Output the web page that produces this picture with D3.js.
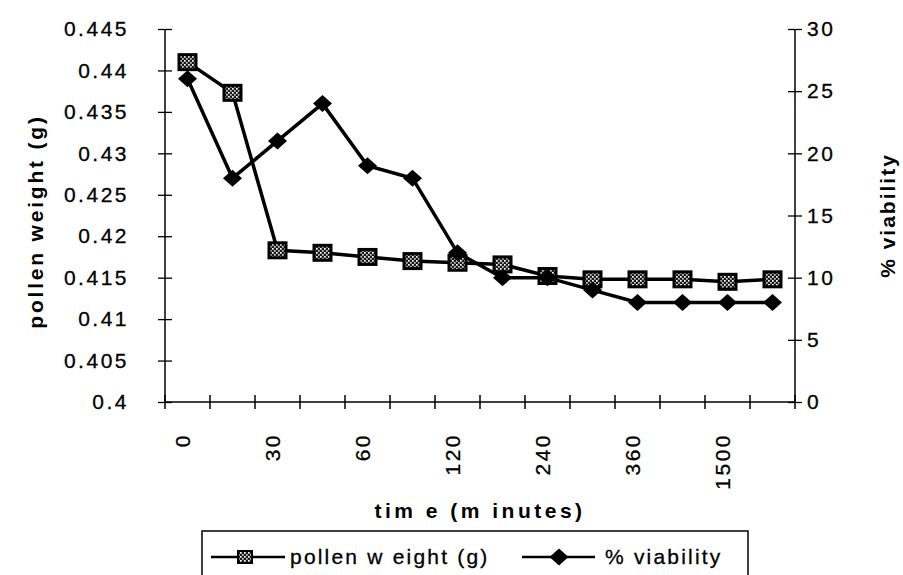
<!DOCTYPE html>
<html>
<head>
<meta charset="utf-8">
<script src="https://cdn.jsdelivr.net/npm/d3@7"></script>
<style>
  body { margin: 0; background: #fff; }
  svg { display: block; }
</style>
</head>
<body>
<div id="chart"></div>
<script>
const timeLabels = ["0", "", "30", "", "60", "", "120", "", "240", "", "360", "", "1500", ""];
const pollenWeight = [0.441, 0.4373, 0.4183, 0.418, 0.4175, 0.417, 0.4168, 0.4166, 0.4152, 0.4148, 0.4148, 0.4148, 0.4145, 0.4148];
const viability = [26, 18, 21, 24, 19, 18, 12, 10, 10, 9, 8, 8, 8, 8];
const leftTicks = [0.4, 0.405, 0.41, 0.415, 0.42, 0.425, 0.43, 0.435, 0.44, 0.445];
const rightTicks = [0, 5, 10, 15, 20, 25, 30];

const width = 903, height = 575;
const margin = { top: 29, right: 108, bottom: 173, left: 165 };
const font = "'Liberation Sans', Arial, sans-serif";

const svg = d3.select("#chart").append("svg")
  .attr("width", width)
  .attr("height", height);

// --- dotted fill for the square markers ---
const defs = svg.append("defs");
const pat = defs.append("pattern")
  .attr("id", "dots")
  .attr("patternUnits", "userSpaceOnUse")
  .attr("width", 4).attr("height", 4);
pat.append("rect").attr("width", 4).attr("height", 4).attr("fill", "#1a1a1a");
pat.append("rect").attr("x", 0).attr("y", 0).attr("width", 1.7).attr("height", 1.7).attr("fill", "#fff");
pat.append("rect").attr("x", 2).attr("y", 2).attr("width", 1.7).attr("height", 1.7).attr("fill", "#ccc");

// --- scales ---
const x = d3.scaleBand()
  .domain(timeLabels.map((d, i) => i))
  .range([margin.left, width - margin.right])
  .padding(0);
const cx = i => x(i) + x.bandwidth() / 2;

const yL = d3.scaleLinear().domain([0.4, 0.445]).range([height - margin.bottom, margin.top]);
const yR = d3.scaleLinear().domain([0, 30]).range([height - margin.bottom, margin.top]);

// --- axes ---
const leftAxis = svg.append("g")
  .attr("transform", `translate(${margin.left},0)`)
  .call(d3.axisLeft(yL).tickValues(leftTicks).tickSize(7).tickPadding(29)
    .tickFormat(d => String(+d.toFixed(3))));
const rightAxis = svg.append("g")
  .attr("transform", `translate(${width - margin.right},0)`)
  .call(d3.axisRight(yR).tickValues(rightTicks).tickSize(7).tickPadding(5));
const bottomAxis = svg.append("g")
  .attr("transform", `translate(0,${height - margin.bottom})`)
  .call(d3.axisBottom(x).tickValues([]).tickSize(0));

[leftAxis, rightAxis].forEach(g => {
  g.selectAll(".tick line").attr("x1", -7).attr("x2", 7);
});
[leftAxis, rightAxis, bottomAxis].forEach(g => {
  g.select(".domain").attr("d", null);
  g.selectAll("line").attr("stroke", "#000").attr("stroke-width", 1.3);
  g.selectAll("text")
    .attr("fill", "#000")
    .attr("stroke", "#000").attr("stroke-width", 0.3)
    .style("font-family", font)
    .style("font-size", "21px")
    .style("letter-spacing", "2.5px");
});

// axis lines drawn plain (no outer ticks)
const axisLines = svg.append("g").attr("stroke", "#000").attr("stroke-width", 1.5);
axisLines.append("line")
  .attr("x1", margin.left).attr("x2", margin.left)
  .attr("y1", yL(0.445)).attr("y2", yL(0.4));
axisLines.append("line")
  .attr("x1", width - margin.right).attr("x2", width - margin.right)
  .attr("y1", yR(30)).attr("y2", yR(0));
axisLines.append("line")
  .attr("x1", margin.left).attr("x2", width - margin.right)
  .attr("y1", yL(0.4)).attr("y2", yL(0.4));

// category boundary ticks on the x axis
const bounds = d3.range(timeLabels.length + 1).map(i => margin.left + i * x.bandwidth());
axisLines.selectAll(".xt").data(bounds).enter().append("line")
  .attr("class", "xt")
  .attr("x1", d => d).attr("x2", d => d)
  .attr("y1", yL(0.4) - 7).attr("y2", yL(0.4) + 7);

// rotated x labels
svg.append("g").selectAll("text")
  .data(timeLabels.map((t, i) => ({ t, i })).filter(d => d.t))
  .enter().append("text")
  .attr("transform", d => `translate(${cx(d.i)},${yL(0.4) + 31}) rotate(-90)`)
  .attr("text-anchor", "end")
  .attr("dy", "0.1em")
  .attr("fill", "#000")
  .attr("stroke", "#000").attr("stroke-width", 0.3)
  .style("font-family", font)
  .style("font-size", "21px")
  .style("letter-spacing", "2.5px")
  .text(d => d.t);

// --- lines ---
const linePollen = d3.line().x((d, i) => cx(i)).y(d => yL(d));
const lineViab = d3.line().x((d, i) => cx(i)).y(d => yR(d));

svg.append("path").datum(pollenWeight)
  .attr("d", linePollen)
  .attr("fill", "none").attr("stroke", "#000").attr("stroke-width", 3.5);

svg.selectAll(".sq").data(pollenWeight).enter().append("rect")
  .attr("class", "sq")
  .attr("x", (d, i) => cx(i) - 8.5)
  .attr("y", d => yL(d) - 7.5)
  .attr("width", 17).attr("height", 15)
  .attr("fill", "url(#dots)")
  .attr("stroke", "#000").attr("stroke-width", 3);

svg.append("path").datum(viability)
  .attr("d", lineViab)
  .attr("fill", "none").attr("stroke", "#000").attr("stroke-width", 3.5);

const diamond = "M0,-8.5L9.5,0L0,8.5L-9.5,0Z";
svg.selectAll(".dm").data(viability).enter().append("path")
  .attr("class", "dm")
  .attr("transform", (d, i) => `translate(${cx(i)},${yR(d)})`)
  .attr("d", diamond)
  .attr("fill", "#000");

// --- axis titles ---
svg.append("text")
  .attr("transform", `translate(36,${(yL(0.4) + yL(0.445)) / 2 + 6}) rotate(-90)`)
  .attr("text-anchor", "middle")
  .attr("dy", "0.35em")
  .style("font-family", font).style("font-size", "21px").style("font-weight", "bold")
  .style("letter-spacing", "2.8px")
  .text("pollen weight (g)");

svg.append("text")
  .attr("transform", `translate(888,${(yL(0.4) + yL(0.445)) / 2}) rotate(-90)`)
  .attr("text-anchor", "middle")
  .attr("dy", "0.35em")
  .style("font-family", font).style("font-size", "21px").style("font-weight", "bold")
  .style("letter-spacing", "2px")
  .text("% viability");

svg.append("text")
  .attr("x", 480).attr("y", 518)
  .attr("text-anchor", "middle")
  .style("font-family", font).style("font-size", "21px").style("font-weight", "bold")
  .style("letter-spacing", "3.5px")
  .text("tim e (m inutes)");

// --- legend ---
const legend = svg.append("g");
legend.append("rect")
  .attr("x", 202).attr("y", 531).attr("width", 546).attr("height", 60)
  .attr("fill", "none").attr("stroke", "#000").attr("stroke-width", 1.5);

const ly = 557;
legend.append("line").attr("x1", 211).attr("x2", 285).attr("y1", ly).attr("y2", ly)
  .attr("stroke", "#000").attr("stroke-width", 2.5);
legend.append("rect").attr("x", 238).attr("y", ly - 6).attr("width", 14).attr("height", 12)
  .attr("fill", "url(#dots)").attr("stroke", "#000").attr("stroke-width", 2);
legend.append("text").attr("x", 290).attr("y", ly + 7)
  .attr("stroke", "#000").attr("stroke-width", 0.3)
  .style("font-family", font).style("font-size", "21px").style("letter-spacing", "2.2px")
  .text("pollen w eight (g)");

legend.append("line").attr("x1", 522).attr("x2", 595).attr("y1", ly).attr("y2", ly)
  .attr("stroke", "#000").attr("stroke-width", 2.5);
legend.append("path").attr("transform", `translate(559,${ly})`).attr("d", diamond).attr("fill", "#000");
legend.append("text").attr("x", 605).attr("y", ly + 7)
  .attr("stroke", "#000").attr("stroke-width", 0.3)
  .style("font-family", font).style("font-size", "21px").style("letter-spacing", "2.2px")
  .text("% viability");
</script>
</body>
</html>
